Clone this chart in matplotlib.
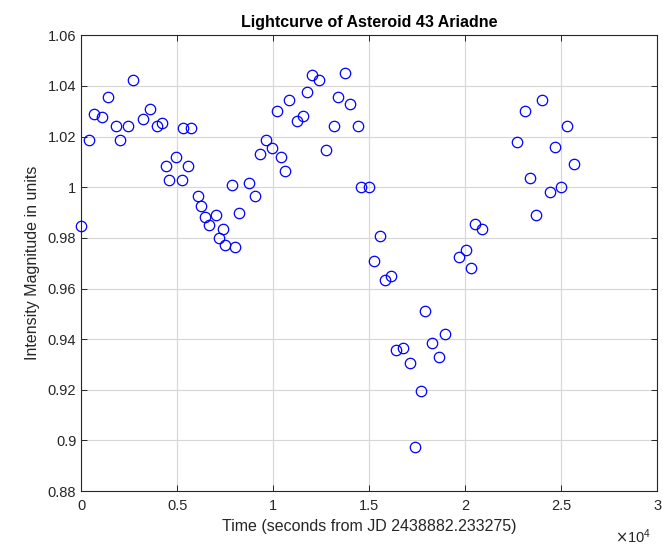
import matplotlib
matplotlib.use('Agg')
import matplotlib.pyplot as plt
import numpy as np

# Ariadne photometry: seconds from JD 2438882.233275 and relative intensity
time_s = [0, 382, 660, 1076, 1389, 1806, 2031, 2431, 2708, 3212,
          3559, 3941, 4219, 4410, 4566, 4913, 5226, 5313, 5538, 5712,
          6076, 6215, 6424, 6632, 7031, 7170, 7378, 7500, 7850, 8003,
          8229, 8765, 9063, 9325, 9603, 9914, 10206, 10395, 10601, 10825,
          11254, 11564, 11787, 12045, 12405, 12749, 13144, 13385, 13746, 14021,
          14399, 14590, 14990, 15258, 15550, 15840, 16158, 16387, 16764, 17106,
          17414, 17688, 17928, 18253, 18664, 18956, 19672, 20051, 20325, 20540,
          20873, 22691, 23142, 23368, 23681, 24010, 24410, 24705, 25000, 25330,
          25660]
intensity = [0.9845, 1.0187, 1.0290, 1.0278, 1.0357, 1.0242, 1.0187, 1.0242, 1.0422, 1.0271,
             1.0308, 1.0242, 1.0254, 1.0082, 1.0028, 1.0119, 1.0028, 1.0232, 1.0083, 1.0232,
             0.9964, 0.9925, 0.9884, 0.9851, 0.9889, 0.9798, 0.9834, 0.9772, 1.0009, 0.9763,
             0.9898, 1.0018, 0.9964, 1.0130, 1.0187, 1.0156, 1.0299, 1.0119, 1.0064, 1.0346,
             1.0261, 1.0280, 1.0375, 1.0442, 1.0422, 1.0148, 1.0242, 1.0357, 1.0451, 1.0328,
             1.0242, 1.0000, 1.0000, 0.9708, 0.9808, 0.9632, 0.9648, 0.9357, 0.9366, 0.9306,
             0.8976, 0.9196, 0.9513, 0.9383, 0.9331, 0.9419, 0.9726, 0.9753, 0.9681, 0.9854,
             0.9835, 1.0177, 1.0299, 1.0036, 0.9890, 1.0346, 0.9980, 1.0157, 1.0000, 1.0241,
             1.0091]

xticks = [0, 0.5, 1, 1.5, 2, 2.5, 3]
yticks = [0.88, 0.9, 0.92, 0.94, 0.96, 0.98, 1, 1.02, 1.04, 1.06]

plt.rcParams['font.family'] = ['Liberation Sans', 'DejaVu Sans']

fig = plt.figure(figsize=(6.63, 5.5), dpi=100)
ax = fig.add_axes([0.1225, 0.107, 0.8685, 0.829])

# time axis shown in units of 1e4 s; markers are not clipped at the frame
ax.plot(np.array(time_s) / 1e4, intensity, linestyle='', marker='o',
        markersize=7.5, markerfacecolor='none', markeredgecolor='#0000ff',
        markeredgewidth=0.9, clip_on=False, zorder=3)

ax.set_xlim(0, 3)
ax.set_ylim(0.88, 1.06)
ax.set_xticks(xticks)
ax.set_xticklabels(['0', '0.5', '1', '1.5', '2', '2.5', '3'])
ax.set_yticks(yticks)
ax.set_yticklabels(['0.88', '0.9', '0.92', '0.94', '0.96', '0.98', '1', '1.02', '1.04', '1.06'])
ax.grid(True, color='#d6d6d6', linewidth=0.8)
ax.set_axisbelow(True)
for s in ax.spines.values():
    s.set_color('#262626')
    s.set_linewidth(0.8)
ax.tick_params(axis='both', direction='in', top=True, right=True, length=4,
               width=0.7, colors='#262626', labelsize=10.5, labelcolor='#262626')
ax.tick_params(axis='x', pad=6)

ax.set_title('Lightcurve of Asteroid 43 Ariadne', fontsize=11.5, fontweight='bold', pad=6)
ax.set_xlabel('Time (seconds from JD 2438882.233275)', fontsize=11.5, color='#262626', labelpad=4)
ax.set_ylabel('Intensity Magnitude in units', fontsize=11.5, color='#262626', labelpad=6)
fig.text(0.955, 0.008, r'$\times\mathregular{10^4}$', fontsize=10.5, color='#262626',
         ha='center', va='bottom')

fig.savefig('out.png', dpi=100)
